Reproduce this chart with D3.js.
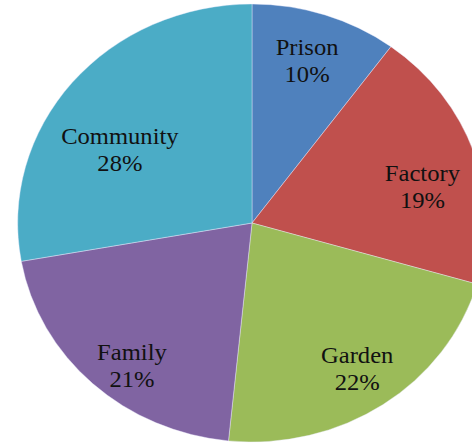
<!DOCTYPE html>
<html>
<head>
<meta charset="utf-8">
<script src="https://cdn.jsdelivr.net/npm/d3@7"></script>
<style>
  body { margin: 0; background: #fff; }
  svg text { font-family: "Times New Roman", "Liberation Serif", "DejaVu Serif", serif; }
</style>
</head>
<body>
<div id="chart"></div>
<script>
// Slice data (clockwise from 12 o'clock), shares
const categories = ["Prison", "Factory", "Garden", "Family", "Community"];
const percents = [10.1, 19.4, 22.1, 20.6, 27.8];
const colors = ["#4F81BD", "#C0504D", "#9BBB59", "#8064A2", "#4BACC6"];

// Label nudges (px) away from the arc centroid, roughly where Excel put them
const labelNudge = [[0, 2], [3, 24], [6, 16], [0, 29], [3, 40]];

const width = 472, height = 446;
const cx = 252, cy = 223;
const radius = 219;
const stretchX = 1.07;   // the pie in the picture is slightly wider than tall

const svg = d3.select("#chart")
  .append("svg")
  .attr("width", width)
  .attr("height", height);

const g = svg.append("g")
  .attr("transform", "translate(" + cx + "," + cy + ") scale(" + stretchX + ",1)");

const pie = d3.pie()
  .sort(null)
  .value(d => d.value);

const data = categories.map((c, i) => ({ name: c, value: percents[i], color: colors[i], nudge: labelNudge[i] }));
const arcs = pie(data);

const arc = d3.arc().innerRadius(0).outerRadius(radius);
const labelArc = d3.arc().innerRadius(165).outerRadius(165);

g.selectAll(".slice")
  .data(arcs)
  .enter()
  .append("path")
  .attr("class", "slice")
  .attr("d", arc)
  .attr("fill", d => d.data.color)
  .attr("stroke", "#eef")
  .attr("stroke-width", 0.4);

const labels = g.selectAll(".label")
  .data(arcs)
  .enter()
  .append("text")
  .attr("class", "label")
  .attr("text-anchor", "middle")
  .style("font-family", "'Liberation Serif', 'Times New Roman', serif")
  .style("font-size", "23px")
  .attr("fill", "#111")
  .attr("transform", d => {
    const c = labelArc.centroid(d);
    return "translate(" + (c[0] + d.data.nudge[0]) + "," + (c[1] + d.data.nudge[1]) + ")";
  });

labels.append("tspan")
  .attr("x", 0)
  .attr("y", -13)
  .text(d => d.data.name);

labels.append("tspan")
  .attr("x", 0)
  .attr("y", 14)
  .text(d => Math.round(d.data.value) + "%");
</script>
</body>
</html>
